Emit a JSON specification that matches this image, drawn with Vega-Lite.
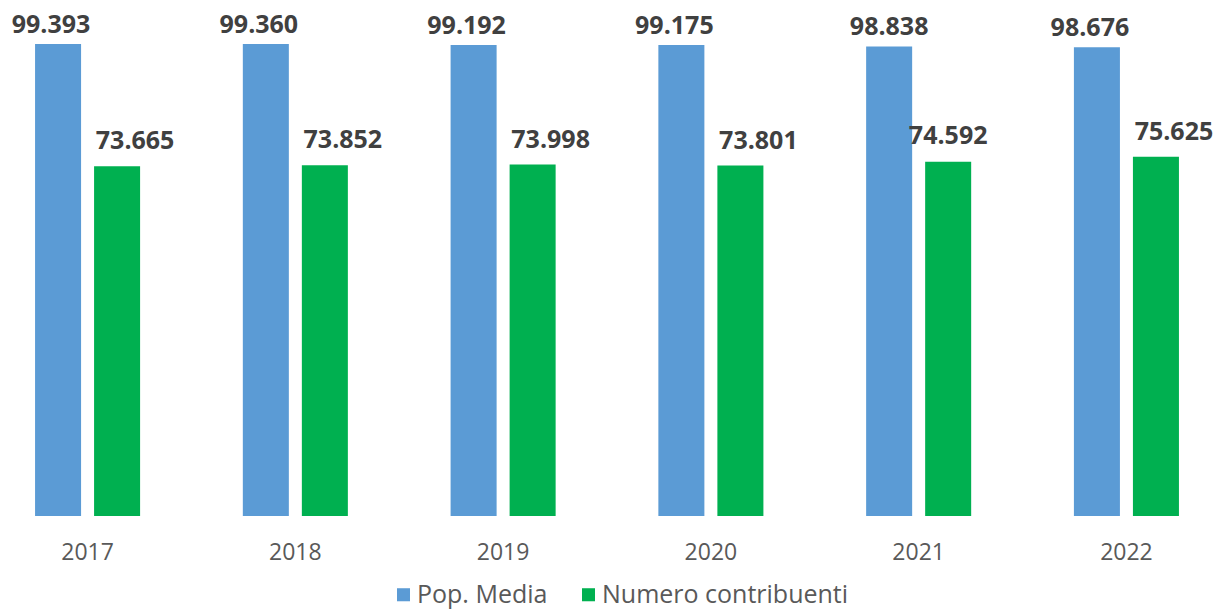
{
  "$schema": "https://vega.github.io/schema/vega-lite/v6.json",
  "width": 1214,
  "height": 516,
  "autosize": {"type": "none"},
  "padding": {"top": 0, "left": 0, "right": 0, "bottom": 95},
  "background": "white",
  "config": {
    "view": {"stroke": null},
    "locale": {"number": {"decimal": ",", "thousands": ".", "grouping": [3], "currency": ["€", ""]}},
    "font": "Open Sans"
  },
  "data": {
    "values": [
      {"year": "2017", "series": "Pop. Media", "value": 99393},
      {"year": "2017", "series": "Numero contribuenti", "value": 73665},
      {"year": "2018", "series": "Pop. Media", "value": 99360},
      {"year": "2018", "series": "Numero contribuenti", "value": 73852},
      {"year": "2019", "series": "Pop. Media", "value": 99192},
      {"year": "2019", "series": "Numero contribuenti", "value": 73998},
      {"year": "2020", "series": "Pop. Media", "value": 99175},
      {"year": "2020", "series": "Numero contribuenti", "value": 73801},
      {"year": "2021", "series": "Pop. Media", "value": 98838},
      {"year": "2021", "series": "Numero contribuenti", "value": 74592},
      {"year": "2022", "series": "Pop. Media", "value": 98676},
      {"year": "2022", "series": "Numero contribuenti", "value": 75625}
    ]
  },
  "encoding": {
    "x": {
      "field": "year", "type": "nominal", "title": null,
      "scale": {"paddingInner": 0.157, "paddingOuter": 0},
      "axis": {"domain": false, "ticks": false, "labelAngle": 0, "labelFontSize": 23, "labelColor": "#595959", "labelPadding": 25, "labelFont": "Open Sans"}
    },
    "xOffset": {
      "field": "series", "type": "nominal",
      "scale": {"domain": ["Pop. Media", "Numero contribuenti"], "paddingInner": 0.2203, "paddingOuter": 0.594}
    },
    "y": {
      "field": "value", "type": "quantitative",
      "scale": {"domain": [0, 108650], "nice": false},
      "axis": null
    }
  },
  "layer": [
    {
      "mark": {"type": "bar"},
      "encoding": {
        "color": {
          "field": "series", "type": "nominal",
          "scale": {"domain": ["Pop. Media", "Numero contribuenti"], "range": ["#5B9BD5", "#00B050"]},
          "legend": {
            "title": null, "orient": "none", "legendX": 391, "legendY": 582, "direction": "horizontal",
            "symbolType": "square", "symbolSize": 170, "symbolStrokeWidth": 0, "symbolOffset": 0,
            "labelFontSize": 25, "labelColor": "#595959", "labelFont": "Open Sans",
            "columnPadding": 28, "labelOffset": 1, "labelLimit": 400
          }
        }
      }
    },
    {
      "transform": [{"filter": "datum.series === 'Pop. Media' && datum.year !== '2021'"}],
      "mark": {"type": "text", "baseline": "alphabetic", "dy": -11, "dx": -7, "fontSize": 25, "fontWeight": "bold", "color": "#404040"},
      "encoding": {"text": {"field": "value", "type": "quantitative", "format": ",d"}}
    },
    {
      "transform": [{"filter": "datum.series === 'Pop. Media' && datum.year === '2021'"}],
      "mark": {"type": "text", "baseline": "alphabetic", "dy": -12, "dx": 0, "fontSize": 25, "fontWeight": "bold", "color": "#404040"},
      "encoding": {"text": {"field": "value", "type": "quantitative", "format": ",d"}}
    },
    {
      "transform": [{"filter": "datum.series === 'Numero contribuenti' && datum.year !== '2021'"}],
      "mark": {"type": "text", "baseline": "alphabetic", "dy": -17, "dx": 18, "fontSize": 25, "fontWeight": "bold", "color": "#404040"},
      "encoding": {"text": {"field": "value", "type": "quantitative", "format": ",d"}}
    },
    {
      "transform": [{"filter": "datum.series === 'Numero contribuenti' && datum.year === '2021'"}],
      "mark": {"type": "text", "baseline": "alphabetic", "dy": -18, "dx": 0, "fontSize": 25, "fontWeight": "bold", "color": "#404040"},
      "encoding": {"text": {"field": "value", "type": "quantitative", "format": ",d"}}
    }
  ]
}
